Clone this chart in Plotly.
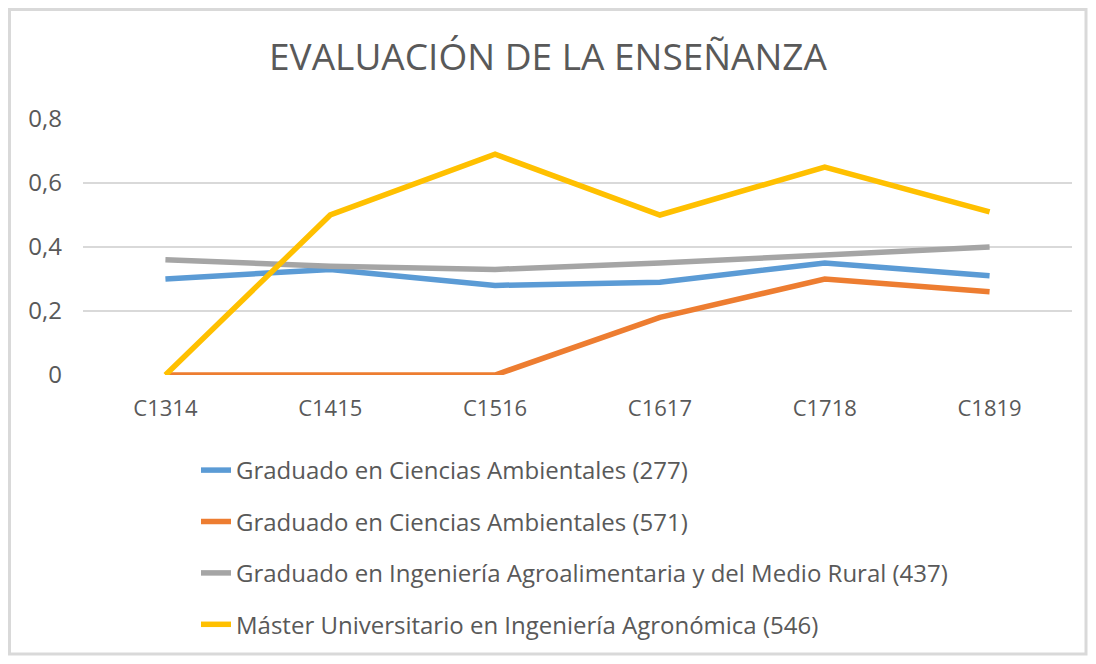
import plotly.graph_objects as go

categories = ["C1314", "C1415", "C1516", "C1617", "C1718", "C1819"]
series_names = [
    "Graduado en Ciencias Ambientales (277)",
    "Graduado en Ciencias Ambientales (571)",
    "Graduado en Ingeniería Agroalimentaria y del Medio Rural (437)",
    "Máster Universitario en Ingeniería Agronómica (546)",
]
ambientales_277 = [0.30, 0.33, 0.28, 0.29, 0.35, 0.31]
ambientales_571 = [0.0, 0.0, 0.0, 0.18, 0.30, 0.26]
agroalimentaria_437 = [0.36, 0.34, 0.33, 0.35, 0.375, 0.40]
master_546 = [0.0, 0.50, 0.69, 0.50, 0.65, 0.51]
colors = ["#5B9BD5", "#ED7D31", "#A5A5A5", "#FFC000"]

title_text = "EVALUACIÓN DE LA ENSEÑANZA"
y_ticks = [0, 0.2, 0.4, 0.6, 0.8]

FONT = "Open Sans, sans-serif"
W, H = 1080, 648
L, R, T, B = 75, 16, 111, 281
PW, PH = W - L - R, H - T - B

fig = go.Figure()
for i, (name, vals) in enumerate(zip(series_names,
                                     [ambientales_277, ambientales_571,
                                      agroalimentaria_437, master_546])):
    fig.add_trace(go.Scatter(
        x=categories, y=vals, name=name, mode="lines",
        line=dict(color=colors[i], width=5.5),
        legendgroup=f"g{i}",
    ))

fig.update_layout(
    width=W, height=H,
    margin=dict(l=L, r=R, t=T, b=B, autoexpand=False),
    paper_bgcolor="white", plot_bgcolor="white",
    separators=",.",
    title=dict(text=title_text, x=0.5, xref="container", xanchor="center",
               y=1 - 49 / H, yref="container", yanchor="middle",
               font=dict(family=FONT, size=37, color="#595959")),
    font=dict(family=FONT, size=24, color="#595959"),
    xaxis=dict(range=[-0.5, 5.5], showgrid=False, zeroline=False,
               showline=False, ticks="", ticklabelstandoff=18,
               tickfont=dict(size=22, color="#595959")),
    yaxis=dict(range=[0, 0.8], tickvals=y_ticks, showgrid=True,
               gridcolor="#D9D9D9", gridwidth=2, zeroline=False,
               showline=False, ticks="", ticklabelstandoff=20,
               tickfont=dict(size=24, color="#595959")),
    legend=dict(orientation="v", xref="container", yref="container",
                x=188 / W, xanchor="left",
                y=1 - 440 / H, yanchor="top", tracegroupgap=17.2,
                font=dict(family=FONT, size=24, color="#595959"),
                bgcolor="rgba(0,0,0,0)"),
    shapes=[dict(type="rect", xref="paper", yref="paper",
                 x0=-(L - 1.5) / PW, x1=1 + (R - 2) / PW,
                 y0=-(B - 2) / PH, y1=1 + (T - 1.5) / PH,
                 line=dict(color="#D9D9D9", width=3), layer="below")],
)

fig.write_html("out.html")
